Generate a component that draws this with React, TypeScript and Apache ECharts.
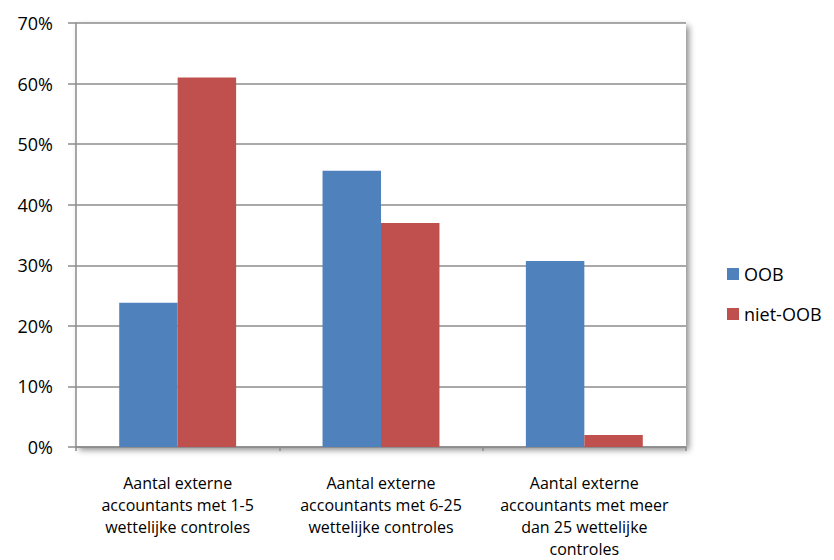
import React, { useEffect, useRef } from "react";
import * as echarts from "echarts";

const categories = [
  "Aantal externe\naccountants met 1-5\nwettelijke controles",
  "Aantal externe\naccountants met 6-25\nwettelijke controles",
  "Aantal externe\naccountants met meer\ndan 25 wettelijke\ncontroles",
];
const oob = [23.8, 45.6, 30.7];
const nietOob = [61.0, 37.0, 2.0];
const seriesNames = ["OOB", "niet-OOB"];

const FONT = "'Open Sans', 'Noto Sans', sans-serif";

export default function App() {
  const ref = useRef<HTMLDivElement>(null);

  useEffect(() => {
    if (!ref.current) return;
    const chart = echarts.init(ref.current, undefined, { renderer: "svg" });
    chart.setOption({
      animation: false,
      backgroundColor: "#ffffff",
      textStyle: { fontFamily: FONT },
      grid: {
        left: 76,
        right: 148,
        top: 23,
        bottom: 108,
        show: true,
        backgroundColor: "#ffffff",
        borderWidth: 0,
        shadowColor: "rgba(0,0,0,0.45)",
        shadowBlur: 6,
        shadowOffsetX: 3,
        shadowOffsetY: 3,
      },
      legend: {
        orient: "vertical",
        left: 722,
        top: 260,
        itemWidth: 12,
        itemHeight: 12,
        itemGap: 22,
        icon: "rect",
        textStyle: { fontFamily: FONT, fontSize: 18, color: "#000" },
        data: seriesNames,
      },
      xAxis: {
        type: "category",
        data: categories,
        axisLine: { show: true, lineStyle: { color: "#8c8c8c", width: 1.5 } },
        axisTick: { show: true, length: 4, lineStyle: { color: "#8c8c8c", width: 1.5 } },
        axisLabel: {
          interval: 0,
          margin: 25,
          fontFamily: FONT,
          fontSize: 16,
          lineHeight: 22,
          color: "#000",
          align: "center",
        },
      },
      yAxis: {
        type: "value",
        min: 0,
        max: 70,
        interval: 10,
        axisLine: { show: true, lineStyle: { color: "#8c8c8c", width: 1.5 } },
        axisTick: { show: true, inside: false, length: 8, lineStyle: { color: "#8c8c8c", width: 1.5 } },
        splitLine: { show: true, lineStyle: { color: "#8c8c8c", width: 1.5 } },
        axisLabel: {
          formatter: "{value}%",
          margin: 23,
          fontFamily: FONT,
          fontSize: 18,
          color: "#000",
        },
      },
      series: [
        {
          name: seriesNames[0],
          type: "bar",
          data: oob,
          barGap: "0%",
          barCategoryGap: "42.5%",
          itemStyle: { color: "#4F81BD" },
        },
        {
          name: seriesNames[1],
          type: "bar",
          data: nietOob,
          barGap: "0%",
          barCategoryGap: "42.5%",
          itemStyle: { color: "#C0504D" },
        },
      ],
    });
    return () => chart.dispose();
  }, []);

  return (
    <div
      ref={ref}
      style={{ position: "absolute", left: 0, top: 0, width: 834, height: 560 }}
    />
  );
}
